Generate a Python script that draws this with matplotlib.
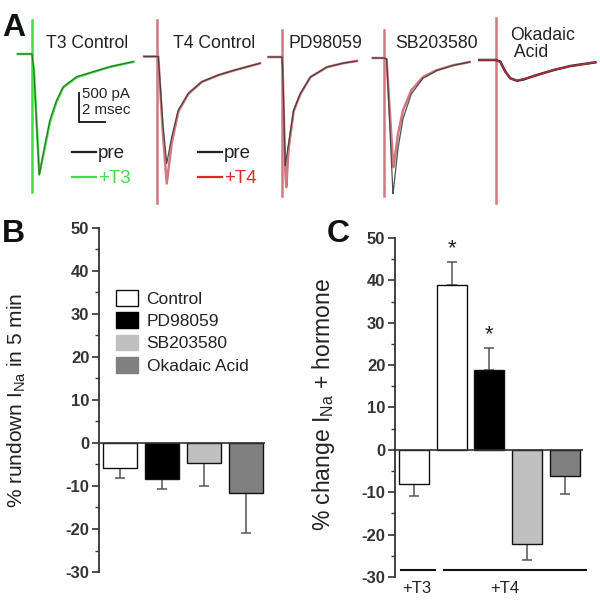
import matplotlib
matplotlib.use('Agg')
import matplotlib.pyplot as plt
from matplotlib.lines import Line2D
from matplotlib.patches import Patch
from matplotlib.ticker import MultipleLocator

plt.rcParams['font.family'] = ['Liberation Sans', 'DejaVu Sans']
plt.rcParams['mathtext.fontset'] = 'custom'
plt.rcParams['mathtext.rm'] = 'Liberation Sans'
plt.rcParams['mathtext.it'] = 'Liberation Sans:italic'
plt.rcParams['axes.unicode_minus'] = False

# ---------------- data: panel A current traces (time in ms, current in pA) --------
t3_time = [-1.1, 0.0, 0.15, 0.56, 0.87, 1.38, 1.9, 2.41, 3.44, 4.72, 6.0, 7.79]
t3_pre  = [0, 0, -300, -2090, -1714, -1139, -794, -564, -392, -305, -219, -132]
t3_hor  = [0, 0, -290, -2070, -1740, -1170, -815, -575, -400, -310, -222, -135]

t4_time = [-1.0, 0.0, 0.1, 0.45, 0.75, 1.13, 1.64, 2.41, 3.44, 4.72, 6.0, 7.92]
t4_pre  = [0, 0, 0, -1150, -1843, -1384, -923, -635, -435, -319, -233, -117]
t4_hor  = [0, 0, 0, -1320, -2189, -1500, -950, -645, -440, -322, -235, -118]

pd_time = [-1.05, 0.0, 0.05, 0.25, 0.33, 0.5, 0.89, 1.41, 2.18, 3.46, 4.74, 5.77]
pd_pre  = [0, 0, -200, -1869, -1750, -1495, -920, -632, -345, -173, -104, -69]
pd_hor  = [0, 0, -200, -1950, -2244, -1600, -940, -640, -350, -175, -105, -69]

sb_time = [-0.87, 0.0, 0.2, 0.69, 0.74, 1.08, 1.46, 2.1, 3.0, 4.03, 5.31, 6.59]
sb_pre  = [0, 0, -20, -2340, -2250, -1550, -1050, -620, -350, -220, -128, -69]
sb_hor  = [0, 0, -20, -1800, -1881, -1305, -903, -557, -328, -212, -126, -69]

oa_time = [-1.28, 0.0, 0.33, 0.72, 1.1, 1.62, 2.13, 3.15, 4.44, 5.72, 7.64]
oa_pre  = [0, 0, -29, -201, -316, -357, -334, -259, -173, -104, -40]
oa_hor  = [0, 3, -35, -205, -320, -350, -330, -262, -170, -106, -42]

# stimulus artifact extent (pA above / below baseline)
artifact_top = [587, 630, 466, 483, 725]
artifact_bot = [-2382, -2529, -2400, -2381, -2473]

trace_titles = ['T3 Control', 'T4 Control', 'PD98059', 'SB203580', 'Okadaic\n Acid']

# ---------------- data: panel B ------------------------------------------------
b_groups = ['Control', 'PD98059', 'SB203580', 'Okadaic Acid']
b_values = [-5.9, -8.4, -4.7, -11.7]
b_errors = [2.3, 2.2, 5.4, 9.2]

# ---------------- data: panel C ------------------------------------------------
c_groups = ['T3 Control', 'T4 Control', 'T4 PD98059', 'T4 SB203580', 'T4 Okadaic Acid']
c_values = [-8.1, 38.9, 18.9, -22.1, -6.1]
c_errors = [2.9, 5.5, 5.1, 3.9, 4.3]
c_signif = [False, True, True, False, False]
c_hormone_labels = ['+T3', '+T4']

# ---------------- styles -------------------------------------------------------
bar_colors_b = ['white', 'black', '#c0c0c0', '#808080']
bar_colors_c = ['white', 'white', 'black', '#c0c0c0', '#808080']
GREEN = '#44dd44'
PINK = '#d27880'
DARK = '#333333'

W, H = 600, 614
fig = plt.figure(figsize=(6, 6.14), dpi=100)


def px_axes(left, top, width, height):
    return fig.add_axes([left / W, 1 - (top + height) / H, width / W, height / H])


# ---------------- panel A ------------------------------------------------------
PX_MS = 13.0      # pixels per ms
PX_PA = 0.058     # pixels per pA
origins = [(32, 54), (157, 56.5), (282, 57), (384, 58), (496, 60)]
traces = [(t3_time, t3_pre, t3_hor), (t4_time, t4_pre, t4_hor),
          (pd_time, pd_pre, pd_hor), (sb_time, sb_pre, sb_hor),
          (oa_time, oa_pre, oa_hor)]
XL = (-1.5, 8.5)
YL = (-2700, 750)
trace_axes = []
for k, ((x0, y0), (tt, pre, hor)) in enumerate(zip(origins, traces)):
    w = (XL[1] - XL[0]) * PX_MS
    h = (YL[1] - YL[0]) * PX_PA
    ax = px_axes(x0 + XL[0] * PX_MS, y0 - YL[1] * PX_PA, w, h)
    ax.set_xlim(*XL)
    ax.set_ylim(*YL)
    ax.axis('off')
    ax.patch.set_alpha(0)
    hcol = GREEN if k == 0 else PINK
    ax.plot([0, 0], [artifact_bot[k], artifact_top[k]], color=hcol, lw=1.8, zorder=1)
    if k == 4:
        ax.plot(tt, pre, color='#222222', lw=1.8, zorder=2)
        ax.plot(tt, hor, color='#b03040', lw=1.2, zorder=3)
    elif k == 0:
        ax.plot(tt, hor, color=GREEN, lw=1.8, zorder=2)
        ax.plot(tt, pre, color='#222222', lw=0.8, zorder=3, alpha=0.6)
    else:
        ax.plot(tt, hor, color=PINK, lw=1.8, zorder=2)
        ax.plot(tt, pre, color='#333333', lw=0.9, zorder=3, alpha=0.85)
    trace_axes.append(ax)

# titles
title_pos = [(46, 43), (173, 43), (288, 43), (395, 43), (510, 44)]
for (x, y), s in zip(title_pos, trace_titles):
    fig.text(x / W, 1 - y / H, s, fontsize=12.7, color='#222222', ha='left', va='center',
             linespacing=1.0)

# scale bar on first trace
ax0 = trace_axes[0]
sb_t, sb_i = 3.62, -1174
ax0.plot([sb_t, sb_t, sb_t + 2], [sb_i + 500, sb_i, sb_i], color='#111111', lw=1.3)
ax0.text(sb_t + 0.2, sb_i + 500 - 20, '500 pA', fontsize=10.8, color='#222222', va='center', ha='left')
ax0.text(sb_t + 0.2, sb_i + 210, '2 msec', fontsize=10.8, color='#222222', va='center', ha='left')

# legends for traces
for ax, lab, col, lx in [(trace_axes[0], '+T3', GREEN, 72), (trace_axes[1], '+T4', '#e02828', 198)]:
    ax.legend(handles=[Line2D([], [], color='#222222', lw=1.6), Line2D([], [], color=col, lw=1.6)],
              labels=['pre', lab], labelcolor=['#222222', col], frameon=False,
              loc='upper left', bbox_to_anchor=(lx / W, 1 - 145 / H),
              bbox_transform=fig.transFigure, handlelength=1.3, handletextpad=0.1,
              labelspacing=0.42, borderpad=0, borderaxespad=0, fontsize=13.5)

# ---------------- panel letters ------------------------------------------------
for s, (x, y) in zip('ABC', [(2, 28), (2, 234), (327, 234)]):
    fig.text(x / W, 1 - y / H, s, fontsize=23, fontweight='bold', ha='left', va='center', color='#111111')


def style_axis(ax):
    for sp in ['top', 'right', 'bottom']:
        ax.spines[sp].set_visible(False)
    ax.spines['left'].set_color(DARK)
    ax.spines['left'].set_linewidth(1.3)
    ax.set_ylim(-30, 50)
    ax.yaxis.set_major_locator(MultipleLocator(10))
    ax.yaxis.set_minor_locator(MultipleLocator(5))
    ax.tick_params(axis='y', which='major', direction='out', length=5, width=1.2,
                   color=DARK, labelsize=12, labelcolor=DARK, pad=2)
    ax.tick_params(axis='y', which='minor', direction='out', length=3, width=1.0, color=DARK)
    for lbl in ax.get_yticklabels():
        lbl.set_fontweight('bold')
    ax.set_xticks([])
    ax.axhline(0, color=DARK, lw=1.2, zorder=4)
    ax.patch.set_alpha(0)


# ---------------- panel B ------------------------------------------------------
axB = px_axes(99, 228, 166, 344)
xb = list(range(len(b_values)))
axB.bar(xb, b_values, width=0.81, color=bar_colors_b, edgecolor='#111111', lw=1.0, zorder=3)
axB.errorbar(xb, b_values, yerr=[b_errors, [0] * len(b_errors)], fmt='none',
             ecolor='#555555', elinewidth=1.1, capsize=3.5, capthick=1.1, zorder=2)
axB.set_xlim(-0.49, 3.46)
style_axis(axB)
axB.set_ylabel(r'% rundown I$_{\mathrm{Na}}$ in 5 min', fontsize=15, color='#222222')
axB.yaxis.set_label_coords(-0.43, 0.5)
leg_edges = ['#111111', 'black', '#c0c0c0', '#808080']
handles = [Patch(facecolor=c, edgecolor=e, lw=1.0) for c, e in zip(bar_colors_b, leg_edges)]
axB.legend(handles, b_groups, frameon=False, loc='upper left',
           bbox_to_anchor=(116 / W, 1 - 290 / H), bbox_transform=fig.transFigure,
           fontsize=12.5, handlelength=1.26, handleheight=1.03, labelspacing=0.31,
           handletextpad=0.5, borderpad=0, borderaxespad=0, labelcolor='#222222')

# ---------------- panel C ------------------------------------------------------
axC = px_axes(395, 238, 188, 339)
xc = list(range(len(c_values)))
low = [e if v < 0 else 0 for v, e in zip(c_values, c_errors)]
up = [e if v >= 0 else 0 for v, e in zip(c_values, c_errors)]
axC.bar(xc, c_values, width=0.79, color=bar_colors_c, edgecolor='#111111', lw=1.0, zorder=3)
axC.errorbar(xc, c_values, yerr=[low, up], fmt='none', ecolor='#555555',
             elinewidth=1.1, capsize=3.5, capthick=1.1, zorder=2)
axC.set_xlim(-0.5, 4.48)
style_axis(axC)
axC.set_ylabel(r'% change I$_{\mathrm{Na}}$ + hormone', fontsize=16.5, color='#222222')
axC.yaxis.set_label_coords(-0.31, 0.51)
for x, v, e, s in zip(xc, c_values, c_errors, c_signif):
    if s:
        axC.text(x, v + e + 0.6, '*', ha='center', va='bottom', fontsize=16, color='#222222')
# hormone group bars under axis
axC.plot([-0.34, 0.56], [-28.3, -28.3], color='#111111', lw=1.5, clip_on=False)
axC.plot([0.79, 4.55], [-28.3, -28.3], color='#111111', lw=1.5, clip_on=False)
axC.text(0.08, -32.6, c_hormone_labels[0], ha='center', va='center', fontsize=12, color='#222222')
axC.text(2.41, -32.6, c_hormone_labels[1], ha='center', va='center', fontsize=12, color='#222222')

fig.savefig('out.png', dpi=100)
